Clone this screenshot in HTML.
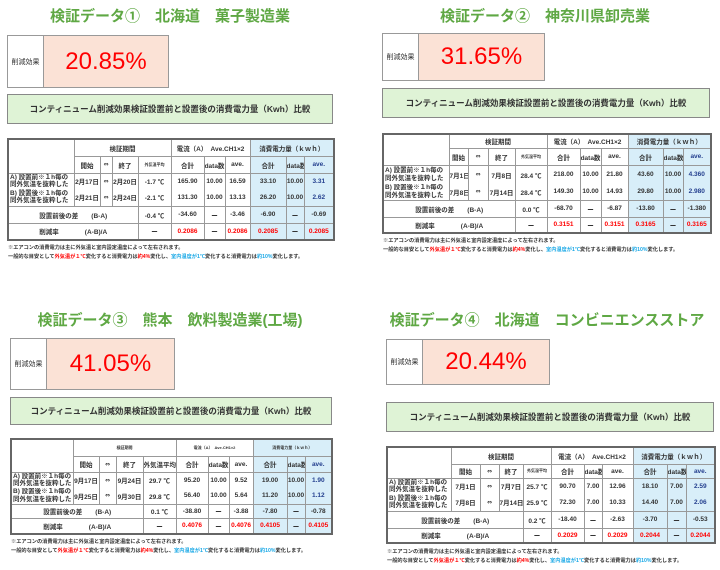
<!DOCTYPE html>
<html><head><meta charset="utf-8">
<style>
*{margin:0;padding:0;box-sizing:border-box}
body{width:720px;height:570px;background:#fff;position:relative;overflow:hidden;font-family:"Liberation Sans","Noto Sans CJK JP",sans-serif}
.a{position:absolute}
.t{font-size:15px;font-weight:bold;color:#5fa844;white-space:nowrap;text-align:center}
.box{border:1.5px solid #999;display:flex}
.box .l{width:36px;border-right:1.5px solid #999;font-size:7px;color:#333;display:flex;align-items:center;justify-content:center;background:#fff}
.box .v{flex:1;background:#fbe2d6;color:#f00;font-size:24px;display:flex;align-items:center;justify-content:center}
.bn{background:#dff3d6;border:1.5px solid #888;font-size:8.5px;font-weight:bold;color:#333;display:flex;align-items:center;justify-content:center;white-space:nowrap}
table{border-collapse:collapse;table-layout:fixed;border:2px solid #666;font-size:6.5px;font-weight:bold;color:#333}
td{border:1px solid #999;text-align:center;white-space:nowrap;overflow:hidden;padding:0}
td.b{background:#d8eef9}
td.lb{text-align:left;font-size:6.5px;line-height:7.5px;padding-left:1px}
td.ar{font-family:"DejaVu Sans",sans-serif;font-size:6px}
.r{color:#f00}
.n{color:#25408f}
.sm{font-size:4px}
.nt{font-size:5.2px;font-weight:bold;color:#333;white-space:nowrap}
.red{color:#f00}.cy{color:#19a8e6}
tr.g td{border-top:1.5px solid #666}
td.nb{border-top:none}
tr.ra td{border-bottom:none}
</style></head><body>

<!-- Panel 1 -->
<div class="a t" style="left:0;top:5px;width:340px">検証データ①　北海道　菓子製造業</div>
<div class="a box" style="left:7px;top:35px;width:162px;height:53px"><div class="l">削減効果</div><div class="v">20.85%</div></div>
<div class="a bn" style="left:7px;top:94px;width:326px;height:30px">コンティニューム削減効果検証設置前と設置後の消費電力量（Kwh）比較</div>
<table class="a" style="left:7px;top:138px;width:326px">
<colgroup><col style="width:66px"><col style="width:26px"><col style="width:12px"><col style="width:26px"><col style="width:33px"><col style="width:33px"><col style="width:21px"><col style="width:25px"><col style="width:36px"><col style="width:18px"><col style="width:30px"></colgroup>
<tr style="height:17px"><td rowspan="2"></td><td colspan="4">検証期間</td><td colspan="3">電流（A）　Ave.CH1×2</td><td colspan="3" class="b">消費電力量（ｋｗｈ）</td></tr>
<tr style="height:17px"><td>開始</td><td class="ar">⇔</td><td>終了</td><td class="sm">外気温平均</td><td>合計</td><td>data数</td><td>ave.</td><td class="b">合計</td><td class="b">data数</td><td class="b n">ave.</td></tr>
<tr class="g ra" style="height:16px"><td class="lb">A) 設置前※１h毎の<br>同外気温を抜粋した</td><td>2月17日</td><td class="ar">⇔</td><td>2月20日</td><td>-1.7 ℃</td><td>165.90</td><td>10.00</td><td>16.59</td><td class="b">33.10</td><td class="b">10.00</td><td class="b n">3.31</td></tr>
<tr style="height:17px"><td class="lb nb">B) 設置後※１h毎の<br>同外気温を抜粋した</td><td class="nb">2月21日</td><td class="nb ar">⇔</td><td class="nb">2月24日</td><td class="nb">-2.1 ℃</td><td class="nb">131.30</td><td class="nb">10.00</td><td class="nb">13.13</td><td class="b nb">26.20</td><td class="b nb">10.00</td><td class="b n nb">2.62</td></tr>
<tr class="g" style="height:17px"><td colspan="4">設置前後の差　　(B-A)</td><td>-0.4 ℃</td><td>-34.60</td><td>ー</td><td>-3.46</td><td class="b">-6.90</td><td class="b">ー</td><td class="b">-0.69</td></tr>
<tr style="height:17px"><td colspan="4">削減率　　　　(A-B)/A</td><td>ー</td><td class="r">0.2086</td><td>ー</td><td class="r">0.2086</td><td class="b r">0.2085</td><td class="b">ー</td><td class="b r">0.2085</td></tr>
</table>
<div class="a nt" style="left:8px;top:244px">※エアコンの消費電力は主に外気温と室内設定温度によって左右されます。</div>
<div class="a nt" style="left:8px;top:253px">一般的な目安として<span class="red">外気温が１℃</span>変化すると消費電力は<span class="red">約4%</span>変化し、<span class="cy">室内温度が1℃</span>変化すると消費電力は<span class="cy">約10%</span>変化します。</div>

<!-- Panel 2 -->
<div class="a t" style="left:370px;top:5px;width:350px">検証データ②　神奈川県卸売業</div>
<div class="a box" style="left:382px;top:33px;width:163px;height:48px"><div class="l">削減効果</div><div class="v">31.65%</div></div>
<div class="a bn" style="left:382px;top:88px;width:328px;height:30px">コンティニューム削減効果検証設置前と設置後の消費電力量（Kwh）比較</div>
<table class="a" style="left:382px;top:133px;width:328px">
<colgroup><col style="width:66px"><col style="width:19px"><col style="width:20px"><col style="width:27px"><col style="width:32px"><col style="width:33px"><col style="width:21px"><col style="width:27px"><col style="width:35px"><col style="width:20px"><col style="width:28px"></colgroup>
<tr style="height:14px"><td rowspan="2"></td><td colspan="4">検証期間</td><td colspan="3">電流（A）　Ave.CH1×2</td><td colspan="3" class="b">消費電力量（ｋｗｈ）</td></tr>
<tr style="height:17px"><td>開始</td><td class="ar">⇔</td><td>終了</td><td class="sm">外気温平均</td><td>合計</td><td>data数</td><td>ave.</td><td class="b">合計</td><td class="b">data数</td><td class="b n">ave.</td></tr>
<tr class="g ra" style="height:19px"><td class="lb">A) 設置前※１h毎の<br>同外気温を抜粋した</td><td>7月1日</td><td class="ar">⇔</td><td>7月8日</td><td>28.4 ℃</td><td>218.00</td><td>10.00</td><td>21.80</td><td class="b">43.60</td><td class="b">10.00</td><td class="b n">4.360</td></tr>
<tr style="height:16px"><td class="lb nb">B) 設置後※１h毎の<br>同外気温を抜粋した</td><td class="nb">7月8日</td><td class="nb ar">⇔</td><td class="nb">7月14日</td><td class="nb">28.4 ℃</td><td class="nb">149.30</td><td class="nb">10.00</td><td class="nb">14.93</td><td class="b nb">29.80</td><td class="b nb">10.00</td><td class="b n nb">2.980</td></tr>
<tr class="g" style="height:17px"><td colspan="4">設置前後の差　　(B-A)</td><td>0.0 ℃</td><td>-68.70</td><td>ー</td><td>-6.87</td><td class="b">-13.80</td><td class="b">ー</td><td class="b">-1.380</td></tr>
<tr style="height:16px"><td colspan="4">削減率　　　　(A-B)/A</td><td>ー</td><td class="r">0.3151</td><td>ー</td><td class="r">0.3151</td><td class="b r">0.3165</td><td class="b">ー</td><td class="b r">0.3165</td></tr>
</table>
<div class="a nt" style="left:383px;top:237px">※エアコンの消費電力は主に外気温と室内設定温度によって左右されます。</div>
<div class="a nt" style="left:383px;top:246px">一般的な目安として<span class="red">外気温が１℃</span>変化すると消費電力は<span class="red">約4%</span>変化し、<span class="cy">室内温度が1℃</span>変化すると消費電力は<span class="cy">約10%</span>変化します。</div>

<!-- Panel 3 -->
<div class="a t" style="left:0;top:309px;width:340px">検証データ③　熊本　飲料製造業(工場)</div>
<div class="a box" style="left:10px;top:338px;width:165px;height:52px"><div class="l">削減効果</div><div class="v">41.05%</div></div>
<div class="a bn" style="left:10px;top:397px;width:322px;height:28px">コンティニューム削減効果検証設置前と設置後の消費電力量（Kwh）比較</div>
<table class="a" style="left:10px;top:438px;width:321px">
<colgroup><col style="width:62px"><col style="width:26px"><col style="width:17px"><col style="width:27px"><col style="width:33px"><col style="width:32px"><col style="width:21px"><col style="width:24px"><col style="width:34px"><col style="width:18px"><col style="width:27px"></colgroup>
<tr style="height:17px"><td rowspan="2"></td><td colspan="4" class="sm">検証期間</td><td colspan="3" class="sm">電流（A）　Ave.CH1×2</td><td colspan="3" class="b sm">消費電力量（ｋｗｈ）</td></tr>
<tr style="height:16px"><td>開始</td><td class="ar">⇔</td><td>終了</td><td>外気温平均</td><td>合計</td><td>data数</td><td>ave.</td><td class="b">合計</td><td class="b">data数</td><td class="b n">ave.</td></tr>
<tr class="g ra" style="height:16px"><td class="lb">A) 設置前※１h毎の<br>同外気温を抜粋した</td><td>9月17日</td><td class="ar">⇔</td><td>9月24日</td><td>29.7 ℃</td><td>95.20</td><td>10.00</td><td>9.52</td><td class="b">19.00</td><td class="b">10.00</td><td class="b n">1.90</td></tr>
<tr style="height:16px"><td class="lb nb">B) 設置後※１h毎の<br>同外気温を抜粋した</td><td class="nb">9月25日</td><td class="nb ar">⇔</td><td class="nb">9月30日</td><td class="nb">29.8 ℃</td><td class="nb">56.40</td><td class="nb">10.00</td><td class="nb">5.64</td><td class="b nb">11.20</td><td class="b nb">10.00</td><td class="b n nb">1.12</td></tr>
<tr class="g" style="height:14px"><td colspan="4">設置前後の差　　(B-A)</td><td>0.1 ℃</td><td>-38.80</td><td>ー</td><td>-3.88</td><td class="b">-7.80</td><td class="b">ー</td><td class="b">-0.78</td></tr>
<tr style="height:16px"><td colspan="4">削減率　　　　(A-B)/A</td><td>ー</td><td class="r">0.4076</td><td>ー</td><td class="r">0.4076</td><td class="b r">0.4105</td><td class="b">ー</td><td class="b r">0.4105</td></tr>
</table>
<div class="a nt" style="left:11px;top:538px">※エアコンの消費電力は主に外気温と室内設定温度によって左右されます。</div>
<div class="a nt" style="left:11px;top:547px">一般的な目安として<span class="red">外気温が１℃</span>変化すると消費電力は<span class="red">約4%</span>変化し、<span class="cy">室内温度が1℃</span>変化すると消費電力は<span class="cy">約10%</span>変化します。</div>

<!-- Panel 4 -->
<div class="a t" style="left:370px;top:309px;width:354px">検証データ④　北海道　コンビニエンスストア</div>
<div class="a box" style="left:386px;top:339px;width:164px;height:46px"><div class="l">削減効果</div><div class="v">20.44%</div></div>
<div class="a bn" style="left:386px;top:402px;width:328px;height:30px">コンティニューム削減効果検証設置前と設置後の消費電力量（Kwh）比較</div>
<table class="a" style="left:386px;top:446px;width:328px">
<colgroup><col style="width:64px"><col style="width:29px"><col style="width:19px"><col style="width:24px"><col style="width:28px"><col style="width:33px"><col style="width:18px"><col style="width:31px"><col style="width:34px"><col style="width:19px"><col style="width:29px"></colgroup>
<tr style="height:17px"><td rowspan="2"></td><td colspan="4">検証期間</td><td colspan="3">電流（A）　Ave.CH1×2</td><td colspan="3" class="b">消費電力量（ｋｗｈ）</td></tr>
<tr style="height:14px"><td>開始</td><td class="ar">⇔</td><td>終了</td><td class="sm">外気温平均</td><td>合計</td><td>data数</td><td>ave.</td><td class="b">合計</td><td class="b">data数</td><td class="b n">ave.</td></tr>
<tr class="g ra" style="height:16px"><td class="lb">A) 設置前※１h毎の<br>同外気温を抜粋した</td><td>7月1日</td><td class="ar">⇔</td><td>7月7日</td><td>25.7 ℃</td><td>90.70</td><td>7.00</td><td>12.96</td><td class="b">18.10</td><td class="b">7.00</td><td class="b n">2.59</td></tr>
<tr style="height:17px"><td class="lb nb">B) 設置後※１h毎の<br>同外気温を抜粋した</td><td class="nb">7月8日</td><td class="nb ar">⇔</td><td class="nb">7月14日</td><td class="nb">25.9 ℃</td><td class="nb">72.30</td><td class="nb">7.00</td><td class="nb">10.33</td><td class="b nb">14.40</td><td class="b nb">7.00</td><td class="b n nb">2.06</td></tr>
<tr class="g" style="height:17px"><td colspan="4">設置前後の差　　(B-A)</td><td>0.2 ℃</td><td>-18.40</td><td>ー</td><td>-2.63</td><td class="b">-3.70</td><td class="b">ー</td><td class="b">-0.53</td></tr>
<tr style="height:15px"><td colspan="4">削減率　　　　(A-B)/A</td><td>ー</td><td class="r">0.2029</td><td>ー</td><td class="r">0.2029</td><td class="b r">0.2044</td><td class="b">ー</td><td class="b r">0.2044</td></tr>
</table>
<div class="a nt" style="left:387px;top:548px">※エアコンの消費電力は主に外気温と室内設定温度によって左右されます。</div>
<div class="a nt" style="left:387px;top:557px">一般的な目安として<span class="red">外気温が１℃</span>変化すると消費電力は<span class="red">約4%</span>変化し、<span class="cy">室内温度が1℃</span>変化すると消費電力は<span class="cy">約10%</span>変化します。</div>

</body></html>
